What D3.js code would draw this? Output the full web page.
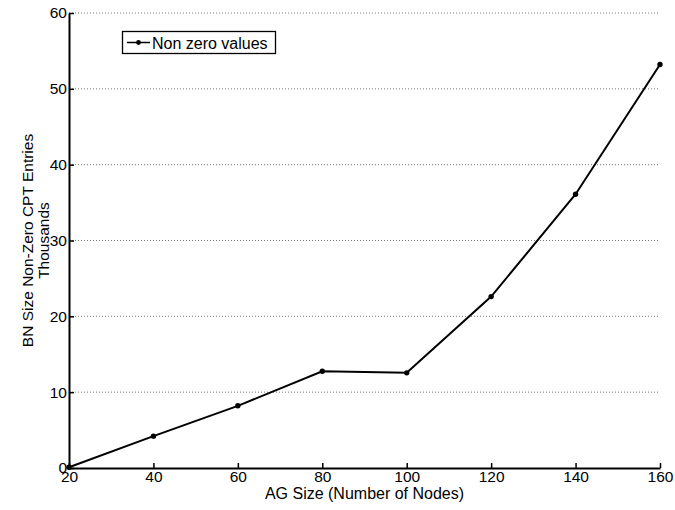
<!DOCTYPE html>
<html><head><meta charset="utf-8">
<script src="https://cdn.jsdelivr.net/npm/d3@7"></script>
<style>body{margin:0;background:#fff}svg{display:block}text{font-family:"Liberation Sans",Arial,Helvetica,sans-serif}</style>
</head><body>
<svg id="c" width="675" height="510"></svg>
<script>
const agSize = [20, 40, 60, 80, 100, 120, 140, 160];
const nonZero = [0.1, 4.2, 8.2, 12.75, 12.55, 22.6, 36.1, 53.2];
const xTicks = [20, 40, 60, 80, 100, 120, 140, 160];
const yTicks = [0, 10, 20, 30, 40, 50, 60];
const seriesName = "Non zero values";
const xLabel = "AG Size (Number of Nodes)";
const yLabel1 = "BN Size Non-Zero CPT Entries";
const yLabel2 = "Thousands";

const svg = d3.select("#c");
const L = 69, R = 660, T = 13, B = 468;
const x = d3.scaleLinear().domain([20, 160]).range([L, R]);
const y = d3.scaleLinear().domain([0, 60]).range([B, T]);

// gridlines
svg.append("g").selectAll("line").data(yTicks.filter(d => d > 0)).join("line")
  .attr("x1", L).attr("x2", R).attr("y1", d => y(d)).attr("y2", d => y(d))
  .attr("stroke", "#777").attr("stroke-width", 1).attr("stroke-dasharray", "1,2");

// axes
const xa = svg.append("g").attr("transform", `translate(0,${B})`)
  .call(d3.axisBottom(x).tickValues(xTicks).tickSizeInner(-5).tickSizeOuter(0).tickPadding(3));
const ya = svg.append("g").attr("transform", `translate(${L},0)`)
  .call(d3.axisLeft(y).tickValues(yTicks).tickSizeInner(-5).tickSizeOuter(0).tickPadding(2));
[xa, ya].forEach(a => {
  a.select(".domain").attr("stroke", "#000").attr("stroke-width", 2);
  a.selectAll(".tick line").attr("stroke", "#000").attr("stroke-width", 1.5);
  a.selectAll("text").attr("font-size", 15.5).attr("fill", "#000")
    .attr("font-family", "'Liberation Sans',Arial,sans-serif");
});

// line
svg.append("path").datum(agSize.map((d, i) => [d, nonZero[i]]))
  .attr("d", d3.line().x(d => x(d[0])).y(d => y(d[1])))
  .attr("fill", "none").attr("stroke", "#000").attr("stroke-width", 2);
svg.append("g").selectAll("circle").data(agSize.map((d, i) => [d, nonZero[i]])).join("circle")
  .attr("cx", d => x(d[0])).attr("cy", d => y(d[1])).attr("r", 2.7).attr("fill", "#000");

// legend
const lg = svg.append("g");
lg.append("rect").attr("x", 122.5).attr("y", 31.5).attr("width", 153).attr("height", 22)
  .attr("fill", "#fff").attr("stroke", "#000").attr("stroke-width", 1.3);
lg.append("line").attr("x1", 127).attr("x2", 150).attr("y1", 42.5).attr("y2", 42.5)
  .attr("stroke", "#000").attr("stroke-width", 1.5);
lg.append("circle").attr("cx", 138.5).attr("cy", 42.5).attr("r", 2.4).attr("fill", "#000");
lg.append("text").attr("x", 152).attr("y", 48.5).attr("font-size", 16).text(seriesName);

// axis labels
svg.append("text").attr("x", (L + R) / 2).attr("y", 499).attr("text-anchor", "middle")
  .attr("font-size", 16).text(xLabel);
const yl = svg.append("g").attr("transform", `translate(0,${(T + B) / 2}) rotate(-90)`);
yl.append("text").attr("x", 0).attr("y", 33).attr("text-anchor", "middle").attr("font-size", 15.5).text(yLabel1);
yl.append("text").attr("x", 0).attr("y", 49).attr("text-anchor", "middle").attr("font-size", 15.5).text(yLabel2);
</script>
</body></html>
